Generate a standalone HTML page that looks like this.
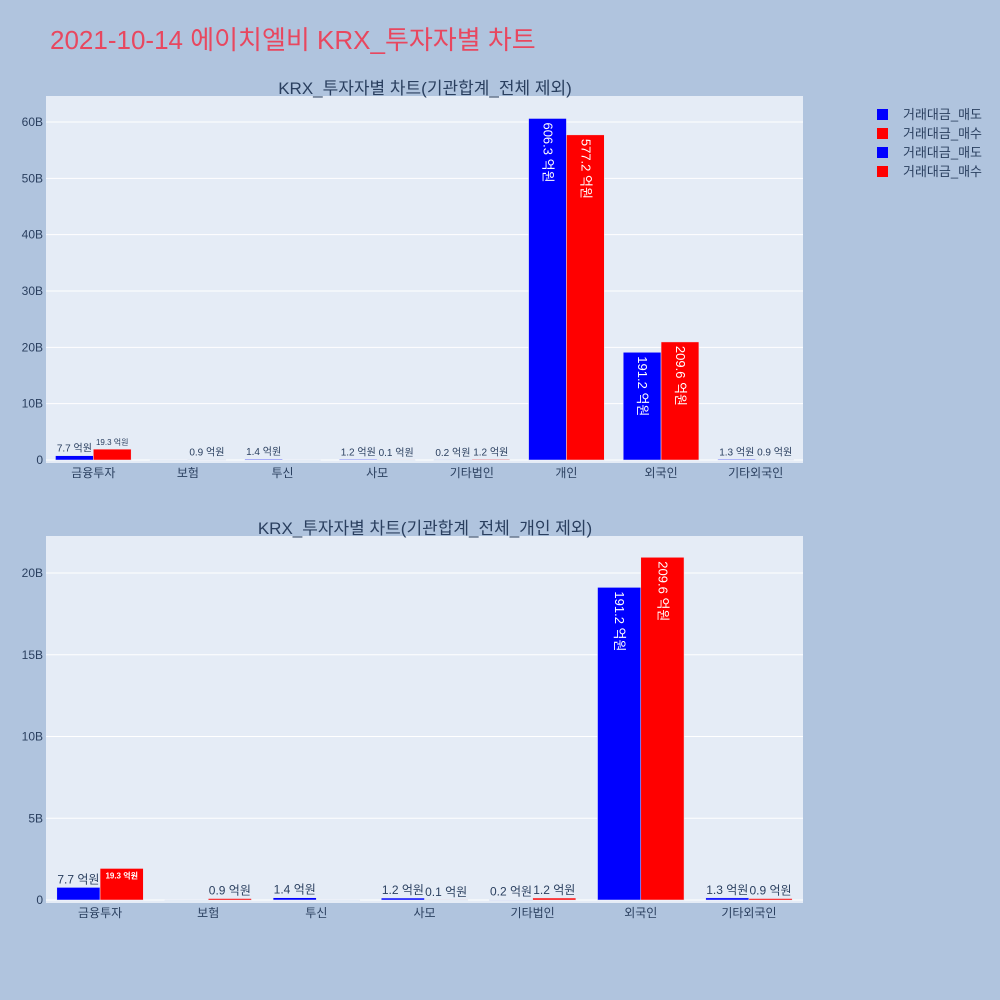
<!DOCTYPE html>
<html><head><meta charset="utf-8">
<style>
body{margin:0;background:#b0c4de;}
svg{display:block;font-family:"Liberation Sans","Noto Sans CJK KR",sans-serif;}
</style></head>
<body>
<svg id="s" width="1000" height="1000" xmlns="http://www.w3.org/2000/svg">
<rect width="1000" height="1000" fill="#b0c4de"/>
<text x="50" y="49" font-size="26" fill="#e8475f">2021-10-14 에이치엘비 KRX_투자자별 차트</text>
<g font-size="13" fill="#2a3f5f">
<rect x="877" y="109" width="11" height="11" fill="#0000ff"/><text x="903" y="119">거래대금_매도</text>
<rect x="877" y="128" width="11" height="11" fill="#ff0000"/><text x="903" y="138">거래대금_매수</text>
<rect x="877" y="147" width="11" height="11" fill="#0000ff"/><text x="903" y="157">거래대금_매도</text>
<rect x="877" y="166" width="11" height="11" fill="#ff0000"/><text x="903" y="176">거래대금_매수</text>
</g>
</svg>
<script>
const cats1=["금융투자","보험","투신","사모","기타법인","개인","외국인","기타외국인"];
const sell1=[7.7,0,1.4,1.2,0.2,606.3,191.2,1.3];
const buy1=[19.3,0.9,0,0.1,1.2,577.2,209.6,0.9];
const ticks1=[0,10,20,30,40,50,60];
const cats2=["금융투자","보험","투신","사모","기타법인","외국인","기타외국인"];
const sell2=[7.7,0,1.4,1.2,0.2,191.2,1.3];
const buy2=[19.3,0.9,0,0.1,1.2,209.6,0.9];
const ticks2=[0,5,10,15,20];
const NS="http://www.w3.org/2000/svg";
const svg=document.getElementById('s');
function mk(tag,attrs,parent){const e=document.createElementNS(NS,tag);for(const k in attrs)e.setAttribute(k,attrs[k]);(parent||svg).appendChild(e);return e;}
function panel(o){
  const g=mk('g',{});
  
  
  const bg=mk('rect',{x:o.x0,y:o.y0,width:o.x1-o.x0,height:o.y1-o.y0,fill:'#e5ecf6'},g);
  
  
  const Y=v=>o.zeroY-v*o.pxPerB; // v in B
  o.ticks.forEach(t=>{
    const ln=mk('line',{x1:o.x0,x2:o.x1,y1:Y(t),y2:Y(t),stroke:'#fff','stroke-width':1},g);
    
    
    const tx=mk('text',{x:o.x0-3,y:Y(t)+4,'text-anchor':'end','font-size':12,fill:'#2a3f5f'},g);
    tx.textContent=t+(t?'B':'');
    
    
  });
  const n=o.cats.length, bw=(o.x1-o.x0)/n, barW=bw*0.4;
  const X=i=>o.x0+bw*(i+0.5);
  o.cats.forEach((c,i)=>{
    const tx=mk('text',{x:X(i),y:o.y1+14,'text-anchor':'middle','font-size':12,fill:'#2a3f5f'},g);
    tx.textContent=c;
    
    
    [[o.sell[i],'#0000ff',-1],[o.buy[i],'#ff0000',0]].forEach(([v,col,off])=>{
      const bx=X(i)+off*barW, h=v/10*o.pxPerB;
      const r=mk('rect',{x:bx,y:o.zeroY-h,width:barW,height:Math.max(h,0.5),fill:col,stroke:'#e5ecf6','stroke-width':0.5},g);
      
      
      if(v===0)return;
      const label=v+' 억원';
      const t=mk('text',{fill:'#2a3f5f'},g);
      t.textContent=label;
      
      
      if(h>60){
        t.setAttribute('fill','#fff');t.setAttribute('font-size',13);
        const cx=bx+barW/2-4, cy=o.zeroY-h+4;
        t.setAttribute('transform','translate('+cx+','+cy+') rotate(90)');
      } else if(h>20&&o.inside){
        t.setAttribute('fill','#fff');t.setAttribute('font-size',8);t.setAttribute('font-weight','bold');
        t.setAttribute('x',bx+barW/2);t.setAttribute('y',o.zeroY-h+10);t.setAttribute('text-anchor','middle');
      } else {
        const fs=(h>10&&!o.inside)?8:o.fs;
        t.setAttribute('font-size',fs);
        t.setAttribute('x',bx+barW/2);t.setAttribute('y',o.zeroY-h-4);t.setAttribute('text-anchor','middle');
      }
    });
  });
  const tt=mk('text',{x:425,y:o.y0-2,'text-anchor':'middle','font-size':17,fill:'#2a3f5f'},g);
  tt.textContent=o.title;
  
  
}
panel({name:'chart-top',x0:46,x1:803,y0:96,y1:463,zeroY:460,pxPerB:5.633,ticks:ticks1,cats:cats1,sell:sell1,buy:buy1,fs:10,inside:false,title:'KRX_투자자별 차트(기관합계_전체 제외)'});
panel({name:'chart-bottom',x0:46,x1:803,y0:536,y1:903,zeroY:900,pxPerB:16.35,ticks:ticks2,cats:cats2,sell:sell2,buy:buy2,fs:12,inside:true,title:'KRX_투자자별 차트(기관합계_전체_개인 제외)'});
</script>
</body></html>
